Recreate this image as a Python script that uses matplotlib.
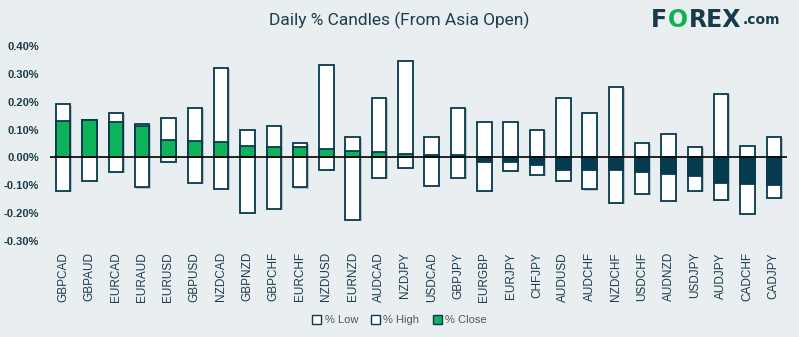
import matplotlib
matplotlib.use('Agg')
import matplotlib.pyplot as plt
from matplotlib.patches import Patch
from matplotlib.transforms import offset_copy
import numpy as np

pairs = ['GBPCAD', 'GBPAUD', 'EURCAD', 'EURAUD', 'EURUSD', 'GBPUSD', 'NZDCAD',
         'GBPNZD', 'GBPCHF', 'EURCHF', 'NZDUSD', 'EURNZD', 'AUDCAD', 'NZDJPY',
         'USDCAD', 'GBPJPY', 'EURGBP', 'EURJPY', 'CHFJPY', 'AUDUSD', 'AUDCHF',
         'NZDCHF', 'USDCHF', 'AUDNZD', 'USDJPY', 'AUDJPY', 'CADCHF', 'CADJPY']
high = [0.190, 0.136, 0.161, 0.121, 0.143, 0.176, 0.321, 0.099, 0.114, 0.052,
        0.330, 0.074, 0.212, 0.347, 0.074, 0.179, 0.128, 0.128, 0.099, 0.212,
        0.158, 0.252, 0.052, 0.085, 0.038, 0.227, 0.041, 0.074]
low = [-0.119, -0.086, -0.053, -0.108, -0.017, -0.093, -0.112, -0.199, -0.184, -0.108,
       -0.046, -0.224, -0.075, -0.039, -0.104, -0.075, -0.120, -0.050, -0.064, -0.086,
       -0.115, -0.162, -0.130, -0.155, -0.119, -0.152, -0.202, -0.144]
close = [0.132, 0.133, 0.128, 0.114, 0.063, 0.059, 0.056, 0.041, 0.038, 0.038,
         0.030, 0.023, 0.019, 0.012, 0.008, 0.008, -0.015, -0.018, -0.029, -0.045,
         -0.045, -0.047, -0.051, -0.058, -0.065, -0.091, -0.095, -0.098]

bg = '#e9eff0'
edge = '#073a4e'
green = '#0db25a'
dark = '#053a4f'
txt = '#1c3b4c'

plt.rcParams['font.family'] = ['Liberation Sans', 'DejaVu Sans']
fig = plt.figure(figsize=(7.99, 3.37), dpi=100, facecolor=bg)
ax = fig.add_axes([0.0626, 0.285, 0.9224, 0.5785], facecolor=bg)

x = np.arange(len(pairs))
w = 0.55
# faint shadow
ax.bar(x + 0.06, high, w, bottom=-0.004, color='#b9c3c6', zorder=1, linewidth=0)
ax.bar(x + 0.06, low, w, bottom=-0.004, color='#b9c3c6', zorder=1, linewidth=0)
ax.bar(x, low, w, color='white', edgecolor=edge, linewidth=1.3, zorder=2)
ax.bar(x, high, w, color='white', edgecolor=edge, linewidth=1.3, zorder=2)
cc = [green if c > 0 else dark for c in close]
ax.bar(x, close, w, color=cc, edgecolor=edge, linewidth=1.3, zorder=3)
ax.axhline(0, color='black', linewidth=1.2, zorder=4)

ax.set_xlim(-0.5, 27.5)
ax.set_ylim(-0.3, 0.4)
ax.set_yticks(np.arange(-0.3, 0.41, 0.1))
ax.set_yticklabels(['%.2f%%' % v for v in np.arange(-0.3, 0.41, 0.1)],
                   fontsize=8, color=txt, fontweight='bold')
ax.set_xticks(x)
ax.set_xticklabels(pairs, rotation=90, fontsize=8.5, color=txt)
ax.tick_params(length=0, pad=8)
for s in ax.spines.values():
    s.set_visible(False)

fig.text(0.5, 0.94, 'Daily % Candles (From Asia Open)', ha='center', va='center',
         fontsize=12.5, color=txt, family=['Roboto', 'DejaVu Sans'])

# logo, pieces chained left to right
logo = [('F', '#163c4c', 17), ('O', '#12b14f', 17), ('REX', '#163c4c', 17), ('.com', '#163c4c', 10)]
fig.canvas.draw()
r = fig.canvas.get_renderer()
tr = fig.transFigure
xpos = 651 / 799
for s, c, fs in logo:
    t = fig.text(xpos, 0.94, s, ha='left', va='center', fontsize=fs, fontweight='heavy',
                 color=c, family=['DejaVu Sans'])
    bb = t.get_window_extent(renderer=r)
    xpos = (bb.x1 + 1) / fig.bbox.width

handles = [Patch(facecolor='white', edgecolor=edge, label='% Low'),
           Patch(facecolor='white', edgecolor=edge, label='% High'),
           Patch(facecolor=green, edgecolor=edge, label='% Close')]
fig.legend(handles=handles, loc='center', bbox_to_anchor=(0.5, 0.05), ncol=3,
           frameon=False, fontsize=8, handlelength=0.8, handleheight=0.8,
           handletextpad=0.3, columnspacing=1.2, labelcolor='#555555')

fig.savefig('out.png', dpi=100, facecolor=bg)
